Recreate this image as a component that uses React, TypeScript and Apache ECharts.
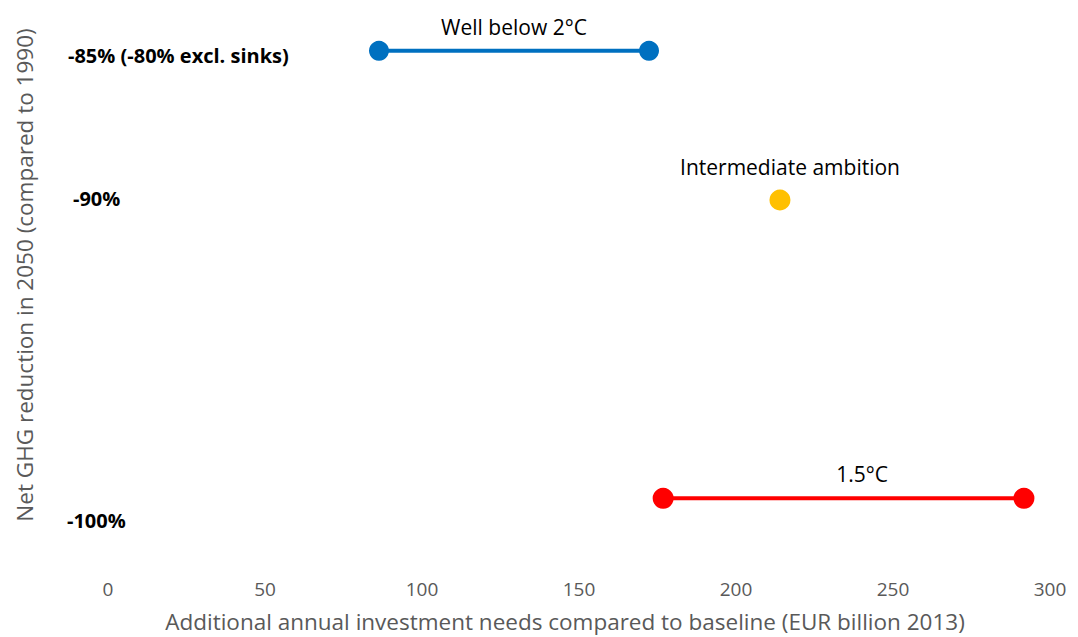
import React, { useEffect, useRef } from "react";
import * as echarts from "echarts";

const xTicks = [0, 50, 100, 150, 200, 250, 300];
const wellBelow2 = [[86.3, -85], [172.3, -85]];
const intermediate = [[214, -90]];
const onePointFive = [[176.8, -100], [291.7, -100]];
const yLabels = ["-85% (-80% excl. sinks)", "-90%", "-100%"];
const seriesNames = ["Well below 2°C", "Intermediate ambition", "1.5°C"];
const xTitle = "Additional annual investment needs compared to baseline (EUR billion 2013)";
const yTitle = "Net GHG reduction in 2050 (compared to 1990)";

const FONT = "'Open Sans', 'Noto Sans', sans-serif";

export default function App() {
  const ref = useRef<HTMLDivElement>(null);
  useEffect(() => {
    if (!ref.current) return;
    const chart = echarts.init(ref.current, null, { renderer: "svg" });
    const labelStyle = (x: number, y: number, text: string, bold: boolean, size: number, align = "center") => ({
      type: "text",
      x,
      y,
      style: {
        text,
        fill: "#000",
        font: `${bold ? "bold " : ""}${size}px ${FONT}`,
        textAlign: align,
        textVerticalAlign: "middle",
      },
    });
    chart.setOption({
      animation: false,
      backgroundColor: "#fff",
      grid: { left: 108, right: 28, top: 21, bottom: 79 },
      xAxis: {
        type: "value",
        min: 0,
        max: 300,
        interval: 50,
        axisLine: { show: false },
        axisTick: { show: false },
        splitLine: { show: false },
        axisLabel: {
          color: "#595959",
          fontSize: 19,
          fontFamily: FONT,
          margin: 21,
          formatter: (v: number) => (xTicks.includes(v) ? String(v) : ""),
        },
      },
      yAxis: {
        type: "value",
        min: -102,
        max: -84,
        axisLine: { show: false },
        axisTick: { show: false },
        splitLine: { show: false },
        axisLabel: { show: false },
      },
      series: [
        {
          name: seriesNames[0],
          type: "line",
          data: wellBelow2,
          symbol: "circle",
          symbolSize: 20,
          lineStyle: { color: "#0070C0", width: 4 },
          itemStyle: { color: "#0070C0" },
        },
        {
          name: seriesNames[1],
          type: "scatter",
          data: intermediate,
          symbol: "circle",
          symbolSize: 21,
          itemStyle: { color: "#FFC000", opacity: 1 },
        },
        {
          name: seriesNames[2],
          type: "line",
          data: onePointFive,
          symbol: "circle",
          symbolSize: 21,
          lineStyle: { color: "#FF0000", width: 4 },
          itemStyle: { color: "#FF0000" },
        },
      ],
      graphic: [
        labelStyle(68, 55, yLabels[0], true, 20, "left"),
        labelStyle(73, 198, yLabels[1], true, 20, "left"),
        labelStyle(67, 520, yLabels[2], true, 20, "left"),
        labelStyle(514, 27, seriesNames[0], false, 21),
        labelStyle(790, 167, seriesNames[1], false, 21),
        labelStyle(862, 474, seriesNames[2], false, 21),
        {
          type: "text",
          x: 565,
          y: 621,
          style: {
            text: xTitle,
            fill: "#595959",
            font: `22.5px ${FONT}`,
            textAlign: "center",
            textVerticalAlign: "middle",
          },
        },
        {
          type: "text",
          x: 24,
          y: 275,
          rotation: Math.PI / 2,
          style: {
            text: yTitle,
            fill: "#595959",
            font: `22.5px ${FONT}`,
            textAlign: "center",
            textVerticalAlign: "middle",
          },
        },
      ],
    });
    return () => chart.dispose();
  }, []);
  return <div ref={ref} style={{ width: 1078, height: 637, position: "absolute", left: 0, top: 0 }} />;
}
